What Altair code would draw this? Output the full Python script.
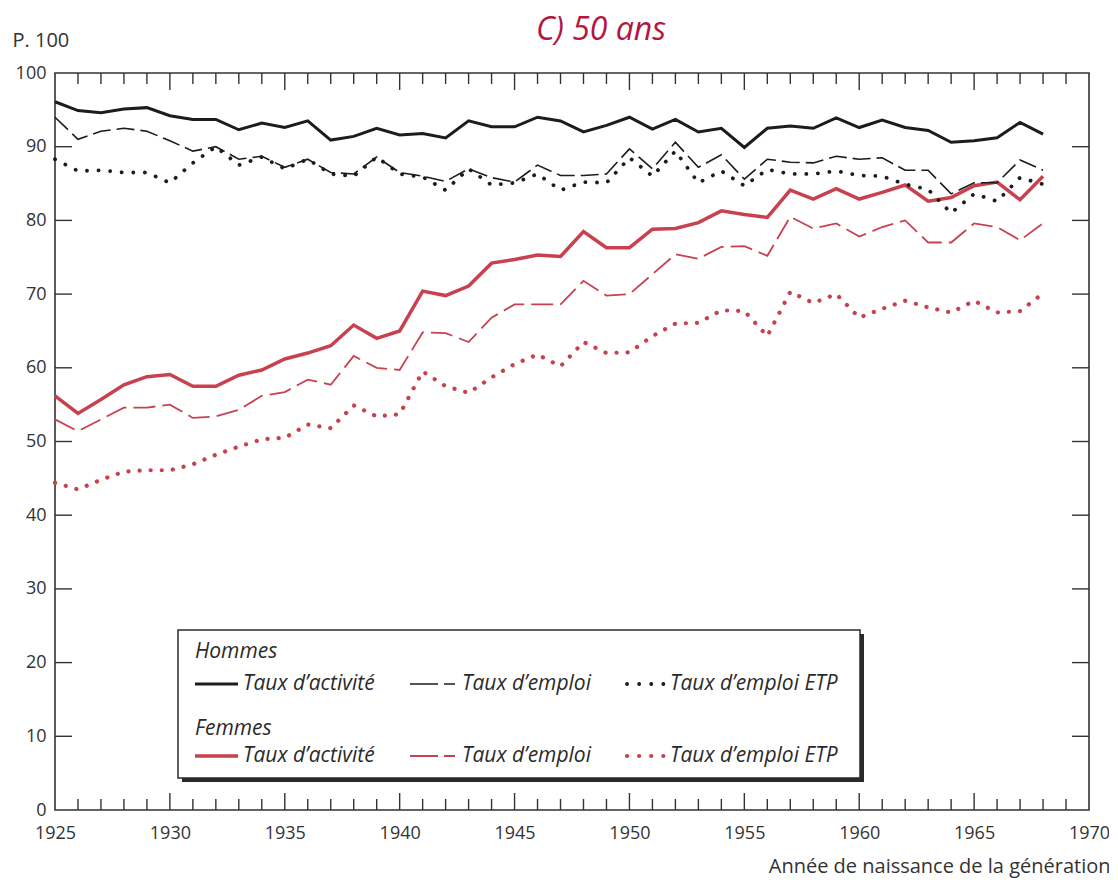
import altair as alt
import pandas as pd

# ---------------- data ----------------
years = list(range(1925, 1969))

h_act = [96.1, 94.9, 94.6, 95.1, 95.3, 94.2, 93.7, 93.7, 92.3, 93.2, 92.6, 93.5, 90.9, 91.4, 92.5, 91.6,
         91.8, 91.2, 93.5, 92.7, 92.7, 94.0, 93.5, 92.0, 92.9, 94.0, 92.4, 93.7, 92.0, 92.5,
         89.9, 92.5, 92.8, 92.5, 93.9, 92.6, 93.6, 92.6, 92.2, 90.6, 90.8, 91.2, 93.3, 91.7]
h_emp = [94.0, 91.0, 92.1, 92.5, 92.1, 90.8, 89.4, 90.0, 88.3, 88.7, 87.2, 88.3, 86.5, 86.3, 88.6,
         86.5, 86.0, 85.3, 87.0, 85.8, 85.2, 87.5, 86.1, 86.1, 86.3, 89.7, 87.0, 90.6, 87.2, 88.9,
         85.6, 88.3, 87.9, 87.8, 88.7, 88.3, 88.5, 86.8, 86.8, 83.6, 85.1, 85.1, 88.2, 86.8]
h_etp = [88.3, 86.7, 86.8, 86.5, 86.5, 85.1, 87.8, 90.0, 87.5, 88.6, 87.0, 88.3, 86.3, 86.0, 88.6,
         86.3, 85.9, 84.1, 87.0, 84.8, 85.1, 86.3, 84.1, 85.2, 85.1, 88.5, 86.0, 89.4, 85.1, 86.7,
         84.7, 86.9, 86.3, 86.3, 86.7, 86.1, 86.0, 84.9, 84.2, 81.0, 83.6, 82.6, 85.8, 84.9]
f_act = [56.2, 53.8, 55.7, 57.7, 58.8, 59.1, 57.5, 57.5, 59.0, 59.7, 61.2, 62.0, 63.0, 65.8, 64.0, 65.0,
         70.4, 69.8, 71.1, 74.2, 74.7, 75.3, 75.1, 78.5, 76.3, 76.3, 78.8, 78.9, 79.7, 81.3,
         80.8, 80.4, 84.1, 82.9, 84.3, 82.9, 83.8, 84.8, 82.6, 83.1, 84.7, 85.2, 82.8, 86.0]
f_emp = [53.0, 51.4, 53.0, 54.6, 54.6, 55.0, 53.2, 53.4, 54.3, 56.2, 56.7, 58.4, 57.7, 61.6, 60.0, 59.7,
         64.8, 64.7, 63.5, 66.8, 68.6, 68.6, 68.6, 71.8, 69.8, 70.0, 72.7, 75.4, 74.8, 76.4,
         76.5, 75.2, 80.5, 78.9, 79.6, 77.8, 79.1, 80.0, 77.0, 77.0, 79.6, 79.1, 77.3, 79.6]
f_etp = [44.4, 43.5, 44.8, 45.9, 46.1, 46.1, 46.9, 48.2, 49.3, 50.3, 50.5, 52.3, 51.8, 54.9, 53.4, 53.7,
         59.5, 57.5, 56.6, 58.7, 60.5, 61.8, 60.2, 63.5, 62.0, 62.1, 64.3, 66.0, 66.1, 67.8,
         67.7, 64.3, 70.3, 68.8, 70.0, 66.8, 68.0, 69.1, 68.2, 67.5, 69.1, 67.5, 67.7, 70.1]

x_labels = [1925, 1930, 1935, 1940, 1945, 1950, 1955, 1960, 1965, 1970]
y_labels = [0, 10, 20, 30, 40, 50, 60, 70, 80, 90, 100]
minor_years = [y for y in range(1926, 1970) if y % 5 != 0]
major_years = [1930, 1935, 1940, 1945, 1950, 1955, 1960, 1965]
y_ticks = [10, 20, 30, 40, 50, 60, 70, 80, 90]

title_text = "C) 50 ans"
y_unit = "P. 100"
x_title = "Année de naissance de la génération"
group_h = "Hommes"
group_f = "Femmes"
lab_act = "Taux d\u2019activité"
lab_emp = "Taux d\u2019emploi"
lab_etp = "Taux d\u2019emploi ETP"

# ---------------- style ----------------
W, H = 1034, 737
FONT = "Open Sans"
TXT = "#333333"
BLACK = "#1c1c1c"
RED = "#c8414f"
TITLE_RED = "#b3173f"

xs = alt.Scale(domain=[1925, 1970], nice=False, zero=False)
ys = alt.Scale(domain=[0, 100], nice=False, zero=True)

x_axis = alt.Axis(values=x_labels, format="d", ticks=False, domain=False, grid=False,
                  labelFont=FONT, labelFontSize=18, labelColor=TXT, labelPadding=14,
                  labelFlush=False, labelOverlap=False,
                  title=x_title, titleFont=FONT, titleFontSize=20, titleFontWeight="normal",
                  titleColor=TXT, titleAlign="right", titleX=1055, titleY=56,
                  titleBaseline="middle", titleAnchor="end")
y_axis = alt.Axis(values=y_labels, ticks=False, domain=False, grid=False,
                  labelFont=FONT, labelFontSize=18, labelColor=TXT, labelPadding=9,
                  labelOverlap=False,
                  title=y_unit, titleFont=FONT, titleFontSize=20, titleFontWeight="normal",
                  titleColor=TXT, titleAngle=0, titleAlign="left", titleBaseline="middle",
                  titleX=-43, titleY=-33)


def X():
    return alt.X("year:Q", scale=xs, axis=x_axis)


def Y():
    return alt.Y("value:Q", scale=ys, axis=y_axis)


def series_df(vals):
    return pd.DataFrame({"year": years, "value": vals})


series = [
    (f_etp, dict(color=RED, strokeWidth=4.2, strokeDash=[0.1, 11], strokeCap="round")),
    (f_emp, dict(color=RED, strokeWidth=1.8, strokeDash=[22, 7])),
    (f_act, dict(color=RED, strokeWidth=3.5)),
    (h_etp, dict(color=BLACK, strokeWidth=3.8, strokeDash=[0.1, 11.5], strokeCap="round")),
    (h_emp, dict(color=BLACK, strokeWidth=1.6, strokeDash=[18, 6])),
    (h_act, dict(color=BLACK, strokeWidth=3)),
]

layers = []
for vals, st in series:
    layers.append(alt.Chart(series_df(vals)).mark_line(strokeJoin="miter", **st).encode(x=X(), y=Y()))

# ---------------- inward ticks ----------------
TK = "#333333"
minor_df = pd.DataFrame({"year": minor_years})
major_df = pd.DataFrame({"year": major_years})
ytick_df = pd.DataFrame({"value": y_ticks})
for df_t, ln in [(minor_df, 11), (major_df, 17)]:
    layers.append(alt.Chart(df_t).mark_rule(color=TK, strokeWidth=1.4).encode(
        x=X(), y=alt.value(H), y2=alt.value(H - ln)))
    layers.append(alt.Chart(df_t).mark_rule(color=TK, strokeWidth=1.4).encode(
        x=X(), y=alt.value(0), y2=alt.value(ln)))
layers.append(alt.Chart(ytick_df).mark_rule(color=TK, strokeWidth=1.4).encode(
    y=Y(), x=alt.value(0), x2=alt.value(17)))
layers.append(alt.Chart(ytick_df).mark_rule(color=TK, strokeWidth=1.4).encode(
    y=Y(), x=alt.value(W - 17), x2=alt.value(W)))

# ---------------- title ----------------
one = pd.DataFrame({"k": [0]})
layers.append(alt.Chart(one).mark_text(text=title_text, font=FONT, fontStyle="italic", fontSize=32,
                                       color=TITLE_RED, align="center", baseline="middle").encode(
    x=alt.value(546), y=alt.value(-43)))

# ---------------- legend (drawn) ----------------
LX0, LX1, LY0, LY1 = 123, 805, 557, 705
layers.append(alt.Chart(one).mark_rect(fill="#2a2a2a").encode(
    x=alt.value(LX0 + 4), x2=alt.value(LX1 + 4), y=alt.value(LY0 + 4), y2=alt.value(LY1 + 4)))
layers.append(alt.Chart(one).mark_rect(fill="white", stroke="#2a2a2a", strokeWidth=1.5).encode(
    x=alt.value(LX0), x2=alt.value(LX1), y=alt.value(LY0), y2=alt.value(LY1)))

LEG_TXT = "#2b2b2b"


def legend_text(txt, x, y):
    return alt.Chart(one).mark_text(text=txt, font=FONT, fontStyle="italic", fontSize=21,
                                    color=LEG_TXT, align="left", baseline="middle").encode(
        x=alt.value(x), y=alt.value(y))


def legend_line(x0, x1, y, st):
    return alt.Chart(one).mark_rule(**st).encode(x=alt.value(x0), x2=alt.value(x1), y=alt.value(y))


rows = [
    (group_h, 579, 611, BLACK, 3, 1.6, 3.8),
    (group_f, 656, 683, RED, 3.5, 1.8, 4.2),
]
for gname, gy, ry, col, w_solid, w_dash, w_dot in rows:
    layers.append(legend_text(gname, 140, gy))
    layers.append(legend_line(140, 183, ry, dict(color=col, strokeWidth=w_solid)))
    layers.append(legend_text(lab_act, 188, ry))
    layers.append(legend_line(355, 400, ry, dict(color=col, strokeWidth=w_dash, strokeDash=[28, 6])))
    layers.append(legend_text(lab_emp, 407, ry))
    layers.append(legend_line(572, 612, ry, dict(color=col, strokeWidth=w_dot, strokeDash=[0.1, 12],
                                                 strokeCap="round")))
    layers.append(legend_text(lab_etp, 615, ry))

chart = alt.layer(*layers).properties(
    width=W, height=H,
    autosize=alt.AutoSizeParams(type="none"),
    padding={"left": 47, "top": 65, "right": 20, "bottom": 70},
    background="white",
).configure_view(stroke="#333333", strokeWidth=1.6)

chart.save("out.html", embed_options={"renderer": "svg", "actions": False})
